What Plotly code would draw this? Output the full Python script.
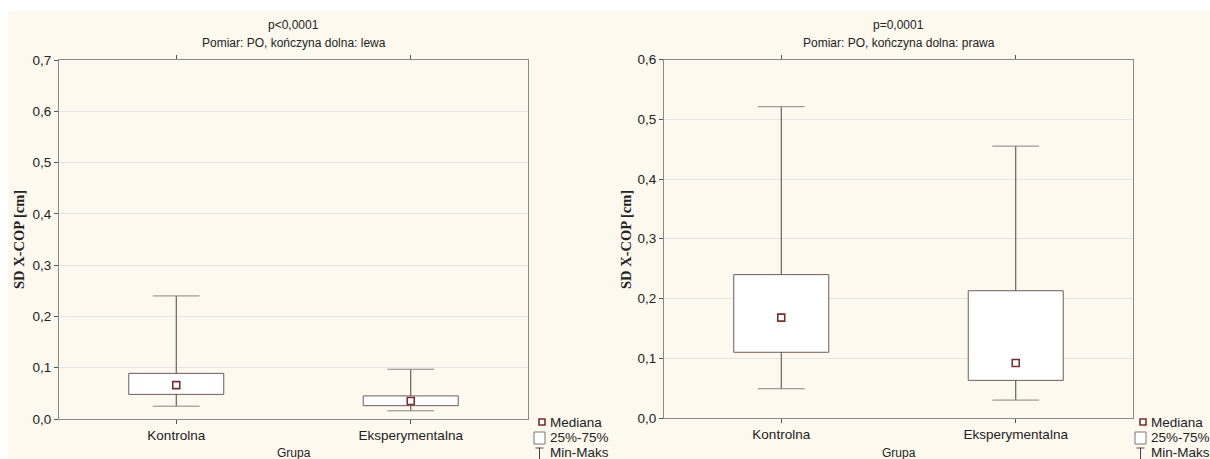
import plotly.graph_objects as go

W, H = 1210, 459

groups = ["Kontrolna", "Eksperymentalna"]

# lewa kończyna dolna
left_min = [0.025, 0.016]
left_q1 = [0.048, 0.026]
left_med = [0.066, 0.035]
left_q3 = [0.089, 0.045]
left_max = [0.240, 0.097]

# prawa kończyna dolna
right_min = [0.049, 0.030]
right_q1 = [0.110, 0.063]
right_med = [0.168, 0.092]
right_q3 = [0.240, 0.213]
right_max = [0.521, 0.455]

titles_p = ["p<0,0001", "p=0,0001"]
titles_sub = ["Pomiar: PO, kończyna dolna: lewa", "Pomiar: PO, kończyna dolna: prawa"]
y_title = "SD X-COP [cm]"
x_title = "Grupa"
legend_labels = ["Mediana", "25%-75%", "Min-Maks"]

FONT = "Liberation Sans, Arial, sans-serif"
CREAM = "#fdf9ef"
BOX_LINE = "#6e5c5c"
WHISKER = "#5a3c3c"
CAP = "#8c8282"
MEDIAN = "#7a2e2e"
FRAME = "#8a8a8a"

BOX_W = 0.405   # box width in category units
CAP_HALF = 0.1  # half width of whisker caps


def px(x):
    return x / W


def py(y):
    return 1 - y / H


fig = go.Figure()

panels = [
    dict(xa="x", ya="y", mn=left_min, q1=left_q1, md=left_med, q3=left_q3, mx=left_max),
    dict(xa="x2", ya="y2", mn=right_min, q1=right_q1, md=right_med, q3=right_q3, mx=right_max),
]

pos = list(range(len(groups)))

for p in panels:
    # interquartile box
    fig.add_trace(go.Bar(
        x=pos, y=[b - a for a, b in zip(p["q1"], p["q3"])], base=p["q1"],
        width=BOX_W, marker=dict(color="white", line=dict(color=BOX_LINE, width=1)),
        xaxis=p["xa"], yaxis=p["ya"], showlegend=False, hoverinfo="skip",
    ))
    # whisker stems
    sx, sy = [], []
    for i in pos:
        sx += [i, i, None, i, i, None]
        sy += [p["q3"][i], p["mx"][i], None, p["q1"][i], p["mn"][i], None]
    fig.add_trace(go.Scatter(
        x=sx, y=sy, mode="lines", line=dict(color=WHISKER, width=1),
        xaxis=p["xa"], yaxis=p["ya"], showlegend=False, hoverinfo="skip",
    ))
    # whisker caps
    cx, cy = [], []
    for i in pos:
        for v in (p["mx"][i], p["mn"][i]):
            cx += [i - CAP_HALF, i + CAP_HALF, None]
            cy += [v, v, None]
    fig.add_trace(go.Scatter(
        x=cx, y=cy, mode="lines", line=dict(color=CAP, width=1),
        xaxis=p["xa"], yaxis=p["ya"], showlegend=False, hoverinfo="skip",
    ))
    # median
    fig.add_trace(go.Scatter(
        x=pos, y=p["md"], mode="markers",
        marker=dict(symbol="square-open", size=7, color=MEDIAN, line=dict(width=1.6, color=MEDIAN)),
        xaxis=p["xa"], yaxis=p["ya"], showlegend=False, hoverinfo="skip",
    ))

common_x = dict(
    range=[-0.5, 1.5], tickvals=pos, ticktext=groups,
    showline=True, linecolor=FRAME, linewidth=1,
    mirror="ticks", ticks="outside", ticklen=4, tickcolor="#555", showgrid=False,
    zeroline=False, tickfont=dict(family=FONT, size=13.5, color="#222"),
    automargin=False, fixedrange=True,
)
common_y = dict(
    showline=True, linecolor=FRAME, linewidth=1, mirror=True, ticks="outside", ticklen=4,
    tickcolor="#555", showgrid=True, gridcolor="#e4e4e4", gridwidth=1, zeroline=False,
    tickformat=".1f", tickfont=dict(family=FONT, size=13.5, color="#222"),
    automargin=False, fixedrange=True,
)

fig.update_layout(
    width=W, height=H, margin=dict(l=0, r=0, t=0, b=0),
    paper_bgcolor="white", plot_bgcolor="white", separators=", ",
    barmode="overlay", showlegend=False,
    xaxis=dict(common_x, domain=[px(59), px(528)], anchor="y"),
    yaxis=dict(common_y, domain=[py(419), py(60)], range=[0, 0.7], dtick=0.1, anchor="x"),
    xaxis2=dict(common_x, domain=[px(664), px(1133)], anchor="y2"),
    yaxis2=dict(common_y, domain=[py(418), py(59.5)], range=[0, 0.6], dtick=0.1, anchor="x2"),
)

# cream background behind the panels
fig.add_shape(type="rect", xref="paper", yref="paper", x0=px(8), x1=1, y0=0, y1=py(11),
              fillcolor=CREAM, line=dict(width=0), layer="below")

annotations = []
shapes = []
for i, cxp in enumerate([293.5, 898.5]):
    annotations.append(dict(x=px(cxp), y=py(25), text=titles_p[i]))
    annotations.append(dict(x=px(cxp), y=py(43), text=titles_sub[i]))
    annotations.append(dict(x=px(cxp), y=py(453), text=x_title))

for xx in [19, 626]:
    annotations.append(dict(x=px(xx), y=py(240), text="<b>" + y_title + "</b>", textangle=-90,
                            font=dict(family="Liberation Serif, Times New Roman, serif", size=14.5, color="#222")))

for off in [0, 601]:
    lx = 542 + off
    # median symbol
    shapes.append(dict(type="rect", x0=px(lx - 3), x1=px(lx + 3), y0=py(425), y1=py(419),
                       line=dict(color=MEDIAN, width=1.6), fillcolor="white"))
    # box symbol
    shapes.append(dict(type="rect", x0=px(lx - 8), x1=px(lx + 3), y0=py(444), y1=py(432),
                       line=dict(color="#777", width=1), fillcolor="white"))
    # whisker symbol
    shapes.append(dict(type="line", x0=px(lx - 6.5), x1=px(lx + 1.5), y0=py(448), y1=py(448),
                       line=dict(color=WHISKER, width=1)))
    shapes.append(dict(type="line", x0=px(lx - 2.5), x1=px(lx - 2.5), y0=py(448), y1=py(459),
                       line=dict(color=WHISKER, width=1)))
    for lab, yy in zip(legend_labels, [422, 437, 452]):
        annotations.append(dict(x=px(lx + 6), y=py(yy), text=lab, xanchor="left",
                                font=dict(family=FONT, size=13.5, color="#222")))

for a in annotations:
    a.setdefault("xref", "paper")
    a.setdefault("yref", "paper")
    a.setdefault("showarrow", False)
    a.setdefault("xanchor", "center")
    a.setdefault("yanchor", "middle")
    a.setdefault("font", dict(family=FONT, size=12, color="#222"))
    fig.add_annotation(**a)

for s in shapes:
    s.update(xref="paper", yref="paper")
    fig.add_shape(**s)

fig.write_html("out.html")
